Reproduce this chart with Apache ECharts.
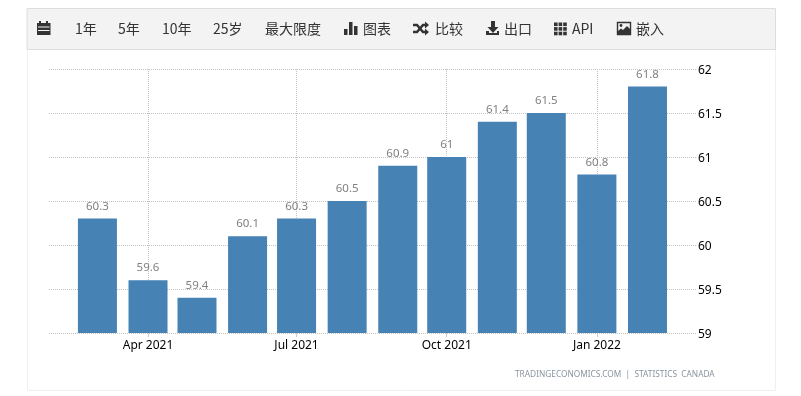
<!DOCTYPE html>
<html><head><meta charset="utf-8">
<style>html,body{margin:0;padding:0;background:#fff}#c{width:801px;height:396px}</style>
<script src="https://cdn.jsdelivr.net/npm/echarts@6/dist/echarts.min.js"></script></head>
<body><div id="c"></div>
<script>
const months=['2021-03-01','2021-04-01','2021-05-01','2021-06-01','2021-07-01','2021-08-01','2021-09-01','2021-10-01','2021-11-01','2021-12-01','2022-01-01','2022-02-01'];
const values=[60.3,59.6,59.4,60.1,60.3,60.5,60.9,61,61.4,61.5,60.8,61.8];
const tickDates=['2021-04-01','2021-07-01','2021-10-01','2022-01-01'];
const monthNames=['Jan','Feb','Mar','Apr','May','Jun','Jul','Aug','Sep','Oct','Nov','Dec'];
const toolbarItems=[['1年',75],['5年',118],['10年',162],['25岁',213],['最大限度',265],['图表',363],['比较',435],['出口',504],['API',572],['嵌入',636]];
const sourceText='TRADINGECONOMICS.COM  |  STATISTICS  CANADA';
const dark='#333';
const font='"Noto Sans CJK SC","Open Sans",sans-serif';
const labelFont='"Noto Sans"';
const g=[
 {type:'rect',z:-1,shape:{x:27.5,y:49.5,width:748,height:341},style:{fill:'#fff',stroke:'#f0f0f0'}},
 {type:'rect',z:-1,shape:{x:27,y:8.5,width:748.5,height:41},style:{fill:'#f3f3f3',stroke:'#ddd'}},
 {type:'rect',shape:{x:37,y:23,width:13.5,height:12},style:{fill:dark}},
 {type:'rect',shape:{x:39,y:21,width:2,height:3},style:{fill:dark}},
 {type:'rect',shape:{x:46,y:21,width:2,height:3},style:{fill:dark}},
 {type:'rect',shape:{x:38,y:26.5,width:11.5,height:1},style:{fill:'#f3f3f3'}},
 {type:'rect',shape:{x:38,y:30,width:11.5,height:1},style:{fill:'#f3f3f3'}},
 {type:'rect',shape:{x:344,y:29,width:3.5,height:6},style:{fill:dark}},
 {type:'rect',shape:{x:349,y:22,width:3.5,height:13},style:{fill:dark}},
 {type:'rect',shape:{x:354,y:26,width:3.5,height:9},style:{fill:dark}},
 {type:'polyline',shape:{points:[[413,25],[417,25],[423,32],[425,32]]},style:{stroke:dark,fill:null,lineWidth:2.4}},
 {type:'polyline',shape:{points:[[413,32],[417,32],[423,25],[425,25]]},style:{stroke:dark,fill:null,lineWidth:2.4}},
 {type:'polygon',shape:{points:[[425,21.5],[429,25],[425,28.5]]},style:{fill:dark}},
 {type:'polygon',shape:{points:[[425,28.5],[429,32],[425,35.5]]},style:{fill:dark}},
 {type:'rect',shape:{x:491,y:21,width:4,height:7},style:{fill:dark}},
 {type:'polygon',shape:{points:[[487.5,27],[498.5,27],[493,33]]},style:{fill:dark}},
 {type:'polygon',shape:{points:[[486,31],[489,31],[489,33],[497,33],[497,31],[499,31],[499,35],[486,35]]},style:{fill:dark}},
 {type:'rect',shape:{x:617.5,y:22.5,width:13,height:12},style:{fill:'#f3f3f3',stroke:dark,lineWidth:1.4}},
 {type:'polygon',shape:{points:[[618,34],[618,31],[621,28.5],[623,30],[627,26],[630,29],[630,34]]},style:{fill:dark}},
 {type:'circle',shape:{cx:621,cy:25.5,r:1.4},style:{fill:dark}},
 {type:'text',x:515,y:375,silent:true,style:{text:sourceText,fill:'#8a94a0',font:'8.3px "Noto Sans"',textVerticalAlign:'middle'}}
];
for(let r=0;r<3;r++)for(let c=0;c<3;c++)g.push({type:'rect',shape:{x:554+c*4.6,y:22.5+r*4.6,width:3.6,height:3.6},style:{fill:dark}});
toolbarItems.forEach(([t,x])=>g.push({type:'text',x:x,y:29,style:{text:t,fill:dark,font:'14px '+font,textVerticalAlign:'middle'}}));
const chart=echarts.init(document.getElementById('c'),null,{renderer:'canvas'});
chart.setOption({
 animation:false,
 graphic:g,
 grid:{left:49,right:104,top:69,bottom:63},
 xAxis:{type:'value',min:Date.parse('2021-01-30T08:00:00Z'),max:Date.parse('2022-03-03T08:00:00Z'),
  axisLine:{show:false},
  axisTick:{show:true,customValues:tickDates.map(Date.parse),length:4,lineStyle:{color:'#ccc'}},
  axisLabel:{customValues:tickDates.map(Date.parse),margin:7,color:'#000',fontFamily:labelFont,fontSize:12,
   formatter:v=>{const d=new Date(v);return monthNames[d.getUTCMonth()]+' '+d.getUTCFullYear();}},
  splitLine:{show:true,lineStyle:{type:[1,1],color:'#c4c4c4'}}},
 yAxis:{type:'value',position:'right',min:59,max:62,interval:0.5,
  axisLine:{show:false},axisTick:{show:false},
  axisLabel:{margin:1,color:'#000',fontFamily:labelFont,fontSize:12,verticalAlign:'top',lineHeight:4},
  splitLine:{show:true,lineStyle:{type:[1,1],color:'#c4c4c4'}}},
 series:[{type:'bar',barWidth:39,data:months.map((m,i)=>[Date.parse(m),values[i]]),
  itemStyle:{color:'#4682b4'},
  label:{show:true,position:'top',distance:6,color:'#808080',fontFamily:labelFont,fontSize:11.5,formatter:p=>String(p.value[1])}}]
});
</script></body></html>
